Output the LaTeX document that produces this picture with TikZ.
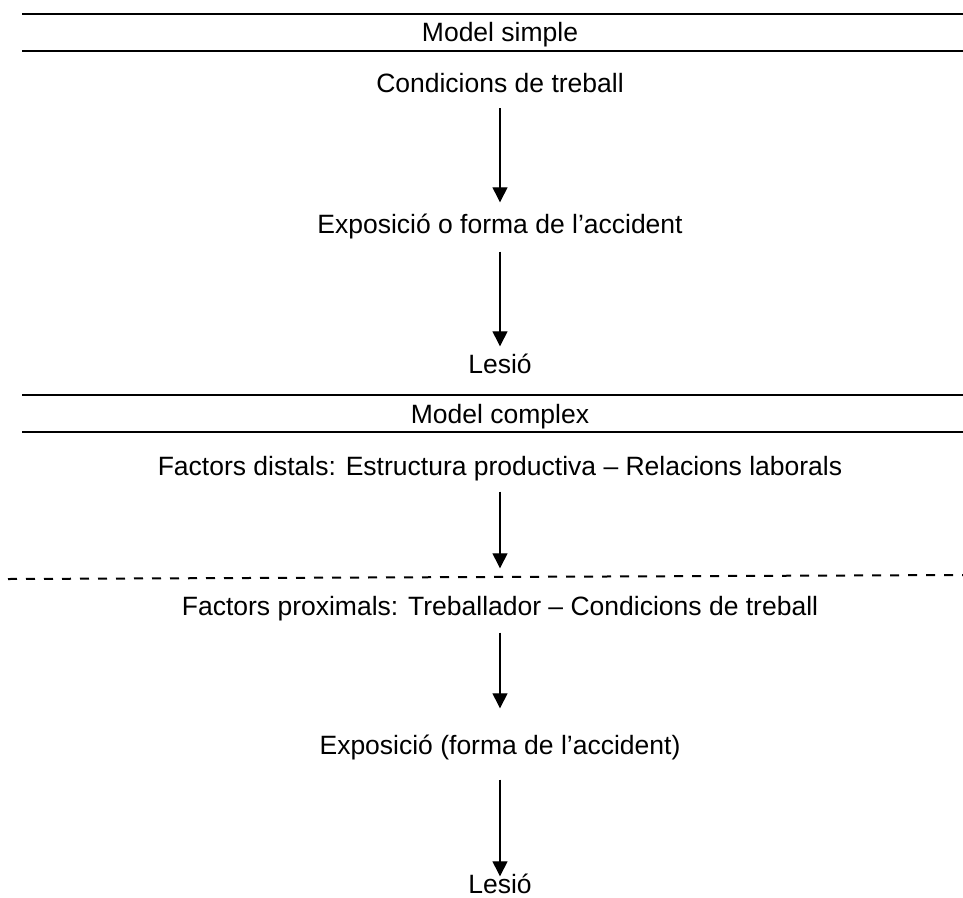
\documentclass[tikz,border=0pt]{standalone}
\usepackage{fontspec}
\setmainfont{Liberation Sans}
\usetikzlibrary{arrows.meta}
\tikzset{
  txt/.style={inner sep=0pt, text height=19pt, text depth=0pt, font=\fontsize{26.5}{30}\selectfont},
  rule/.style={line width=2pt},
  flow/.style={line width=1.3pt, -{Triangle[width=15pt,length=15pt]}},
}
\begin{document}
\begin{tikzpicture}[x=1pt, y=-1pt]
\useasboundingbox (0,0) rectangle (963,897);
% model simple
\draw[rule](22,14)--(963,14);
\node[txt] (simple) at (500,32){Model simple};
\draw[rule](22,51)--(963,51);
\node[txt] (cond) at (500,82.5){Condicions de treball};
\node[txt] (expoa) at (500,224){Exposició o forma de l’accident};
\node[txt] (lesioa) at (500,364){Lesió};
\draw[flow, shorten <=16pt, shorten >=12pt](cond.south)--(expoa.north);
\draw[flow, shorten <=18pt, shorten >=8pt](expoa.south)--(lesioa.north);
% model complex
\draw[rule](22,395)--(963,395);
\node[txt] (complex) at (500,414){Model complex};
\draw[rule](22,432)--(963,432);
\node[txt] (distal) at (500,466){Factors distals: Estructura productiva – Relacions laborals};
\draw[rule, line width=2pt, dash pattern=on 9pt off 9pt](8,579)--(963,575);
\node[txt] (proxim) at (500,606){Factors proximals: Treballador – Condicions de treball};
\node[txt] (expob) at (500,745){Exposició (forma de l’accident)};
\node[txt] (lesiob) at (500,884){Lesió};
\draw[flow, shorten <=16pt, shorten >=28pt](distal.south)--(proxim.north);
\draw[flow, shorten <=17pt, shorten >=27pt](proxim.south)--(expob.north);
\draw[flow, shorten <=25pt, shorten >=-2pt](expob.south)--(lesiob.north);
\end{tikzpicture}
\end{document}
